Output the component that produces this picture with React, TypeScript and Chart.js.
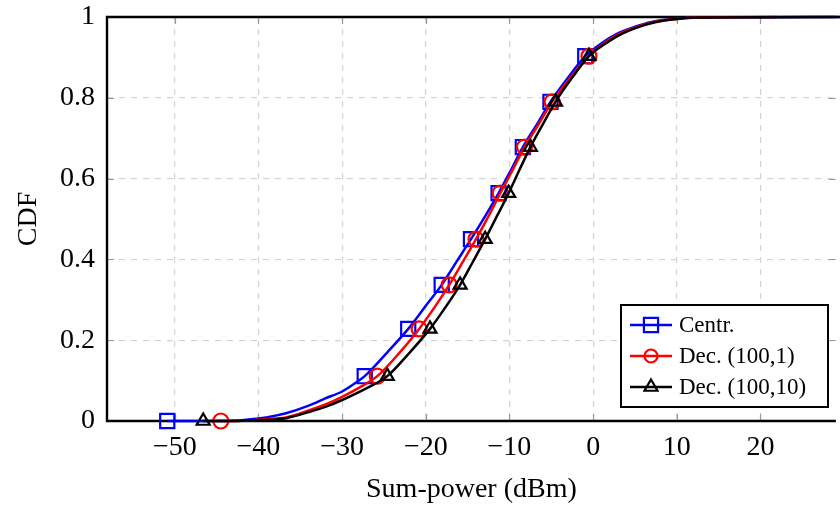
import { useEffect, useRef } from 'react';
import { Chart, registerables } from 'chart.js';

Chart.register(...registerables);

// ---------- data ----------
const xTickValues = [-50, -40, -30, -20, -10, 0, 10, 20];
const yTickValues = [0, 0.2, 0.4, 0.6, 0.8, 1];
const seriesLabels = ['Centr.', 'Dec. (100,1)', 'Dec. (100,10)'];
const xTitle = 'Sum-power (dBm)';
const yTitle = 'CDF';

const centrX = [-50.9, -44, -42, -40, -38, -36.7, -34, -32, -30, -28.2, -27.3, -24.6, -22.1, -20, -18.1, -16.3, -14.6, -12.9, -11.3, -9.8, -8.4, -6.7, -5.1, -3.0, -0.94, 1.0, 3.0, 5.0, 7.0, 9.0, 12.0, 30];
const centrY = [0, 0, 0.002, 0.006, 0.013, 0.019, 0.038, 0.056, 0.073, 0.097, 0.111, 0.17, 0.228, 0.285, 0.337, 0.395, 0.45, 0.507, 0.564, 0.622, 0.678, 0.735, 0.79, 0.85, 0.903, 0.935, 0.96, 0.976, 0.988, 0.994, 0.999, 1];

const dec1X = [-44.5, -43, -41.5, -40, -38, -36.7, -34, -32, -30, -28, -25.8, -23.1, -20.8, -18.9, -17.2, -15.6, -14, -12.5, -11.1, -9.6, -8.2, -6.5, -4.9, -2.7, -0.5, 1.3, 3.3, 5.3, 7.3, 9.3, 12.3, 22];
const dec1Y = [0, 0, 0.001, 0.003, 0.006, 0.009, 0.026, 0.041, 0.06, 0.082, 0.111, 0.17, 0.228, 0.283, 0.337, 0.393, 0.45, 0.507, 0.564, 0.622, 0.678, 0.735, 0.79, 0.85, 0.903, 0.935, 0.96, 0.976, 0.988, 0.994, 0.999, 1];

const dec10X = [-46.6, -43, -41.5, -40, -38, -36.7, -34, -32, -30, -27, -24.6, -21.9, -19.5, -17.6, -15.9, -14.4, -12.9, -11.5, -10.1, -8.8, -7.5, -6.0, -4.5, -2.5, -0.5, 1.4, 3.4, 5.4, 7.4, 9.4, 12.5, 30];
const dec10Y = [0, 0, 0.001, 0.002, 0.004, 0.007, 0.022, 0.035, 0.052, 0.082, 0.111, 0.17, 0.228, 0.283, 0.337, 0.393, 0.45, 0.507, 0.564, 0.622, 0.678, 0.735, 0.79, 0.85, 0.903, 0.933, 0.958, 0.975, 0.987, 0.994, 0.999, 1];

const markerIndices = [0, 10, 12, 14, 16, 18, 20, 22, 24];

const FONT = "'Liberation Serif', 'Times New Roman', serif";

const fmt = (v: number) => String(v).replace('-', '\u2212');

function drawMarker(ctx: CanvasRenderingContext2D, style: string, x: number, y: number, r: number) {
  ctx.beginPath();
  if (style === 'rect') {
    const s = Math.SQRT1_2 * r;
    ctx.rect(x - s, y - s, 2 * s, 2 * s);
  } else if (style === 'circle') {
    ctx.arc(x, y, r, 0, Math.PI * 2);
  } else {
    ctx.moveTo(x, y - r);
    ctx.lineTo(x + 0.866 * r, y + 0.5 * r);
    ctx.lineTo(x - 0.866 * r, y + 0.5 * r);
    ctx.closePath();
  }
  ctx.stroke();
}

const framePlugin = {
  id: 'frame',
  beforeDatasetsDraw(chart: any) {
    const { ctx, chartArea } = chart;
    const { left, right, top, bottom } = chartArea;
    const xs = chart.scales.x;
    const ys = chart.scales.y;
    ctx.save();
    ctx.strokeStyle = '#9a9a9a';
    ctx.lineWidth = 1.2;
    ctx.beginPath();
    xTickValues.forEach((v) => {
      const px = Math.round(xs.getPixelForValue(v)) + 0.5;
      ctx.moveTo(px, bottom);
      ctx.lineTo(px, bottom - 7);
      ctx.moveTo(px, top);
      ctx.lineTo(px, top + 7);
    });
    yTickValues.forEach((v) => {
      const py = Math.round(ys.getPixelForValue(v)) + 0.5;
      ctx.moveTo(left, py);
      ctx.lineTo(left + 7, py);
      ctx.moveTo(right, py);
      ctx.lineTo(right - 7, py);
    });
    ctx.stroke();
    ctx.strokeStyle = '#000';
    ctx.lineWidth = 2.4;
    ctx.beginPath();
    ctx.moveTo(right, top);
    ctx.lineTo(left, top);
    ctx.lineTo(left, bottom);
    ctx.lineTo(right, bottom);
    ctx.stroke();
    ctx.restore();
  },
};

const legendPlugin = {
  id: 'boxLegend',
  afterDatasetsDraw(chart: any) {
    const { ctx } = chart;
    ctx.save();
    const bx = 621, by = 305, bw = 207, bh = 102;
    ctx.fillStyle = '#fff';
    ctx.fillRect(bx, by, bw, bh);
    ctx.strokeStyle = '#000';
    ctx.lineWidth = 2;
    ctx.strokeRect(bx, by, bw, bh);
    chart.data.datasets.forEach((ds: any, i: number) => {
      const y = 325 + i * 31;
      ctx.strokeStyle = ds.borderColor;
      ctx.lineWidth = 2.5;
      ctx.beginPath();
      ctx.moveTo(630, y);
      ctx.lineTo(672, y);
      ctx.stroke();
      ctx.lineWidth = 2.2;
      const r = ds.pointStyle === 'rect' ? 10 : ds.pointStyle === 'circle' ? 6.5 : 7.5;
      drawMarker(ctx, ds.pointStyle, 651, y, r);
      ctx.fillStyle = '#000';
      ctx.font = `23px ${FONT}`;
      ctx.textBaseline = 'middle';
      ctx.textAlign = 'left';
      ctx.fillText(ds.label, 679, y + 1);
    });
    ctx.restore();
  },
};

export default function App() {
  const ref = useRef<HTMLCanvasElement>(null);
  useEffect(() => {
    const canvas = ref.current!;
    const mk = (xs: number[], ys: number[]) => xs.map((x, i) => ({ x, y: ys[i] }));
    const defs = [
      { label: seriesLabels[0], xs: centrX, ys: centrY, color: '#0000ff', style: 'rect', r: 10, order: 2 },
      { label: seriesLabels[1], xs: dec1X, ys: dec1Y, color: '#ff0000', style: 'circle', r: 7.5, order: 1 },
      { label: seriesLabels[2], xs: dec10X, ys: dec10Y, color: '#000000', style: 'triangle', r: 7.5, order: 0 },
    ];
    const chart = new Chart(canvas, {
      type: 'line',
      data: {
        datasets: defs.map((d) => ({
          label: d.label,
          data: mk(d.xs, d.ys),
          borderColor: d.color,
          backgroundColor: 'transparent',
          borderWidth: 2.5,
          pointStyle: d.style,
          pointRadius: (c: any) => (markerIndices.includes(c.dataIndex) ? d.r : 0),
          pointHoverRadius: (c: any) => (markerIndices.includes(c.dataIndex) ? d.r : 0),
          pointBorderColor: d.color,
          pointBackgroundColor: 'transparent',
          pointBorderWidth: 2.2,
          cubicInterpolationMode: 'monotone',
          fill: false,
          clip: false,
          order: d.order,
        })) as any,
      },
      options: {
        responsive: false,
        animation: false,
        events: [],
        layout: { padding: { top: 17, left: 0, right: 0, bottom: 0 } },
        plugins: { legend: { display: false }, tooltip: { enabled: false } },
        scales: {
          x: {
            type: 'linear',
            min: -58.1,
            max: 29,
            afterBuildTicks: (s: any) => {
              s.ticks = xTickValues.map((v) => ({ value: v }));
            },
            afterFit: (s: any) => {
              s.height = 86;
              s.paddingLeft = 0;
              s.paddingRight = 0;
            },
            grid: { color: '#d4d4d4', lineWidth: 1.2, drawTicks: false },
            border: { display: false, dash: [6, 6] },
            ticks: {
              padding: 10,
              color: '#000',
              font: { family: FONT, size: 28 },
              callback: (v: any) => fmt(Number(v)),
              maxRotation: 0,
              autoSkip: false,
            },
            title: {
              display: true,
              text: xTitle,
              color: '#000',
              font: { family: FONT, size: 28 },
              padding: { top: 0, bottom: 1 },
            },
          },
          y: {
            type: 'linear',
            min: 0,
            max: 1,
            afterBuildTicks: (s: any) => {
              s.ticks = yTickValues.map((v) => ({ value: v }));
            },
            afterFit: (s: any) => {
              s.width = 107;
              s.paddingTop = 0;
              s.paddingBottom = 0;
            },
            grid: { color: '#d4d4d4', lineWidth: 1.2, drawTicks: false },
            border: { display: false, dash: [6, 6] },
            ticks: {
              padding: 12,
              color: '#000',
              font: { family: FONT, size: 28 },
              callback: (v: any) => String(v),
              autoSkip: false,
            },
            title: {
              display: true,
              text: yTitle,
              color: '#000',
              font: { family: FONT, size: 28 },
              padding: { top: 12, bottom: 0 },
            },
          },
        },
      } as any,
      plugins: [framePlugin, legendPlugin],
    });
    return () => chart.destroy();
  }, []);
  return (
    <div style={{ position: 'absolute', left: 0, top: 0, width: 840, height: 507, overflow: 'hidden', background: '#fff' }}>
      <canvas ref={ref} width={848} height={507} style={{ display: 'block', width: 848, height: 507 }} />
    </div>
  );
}
